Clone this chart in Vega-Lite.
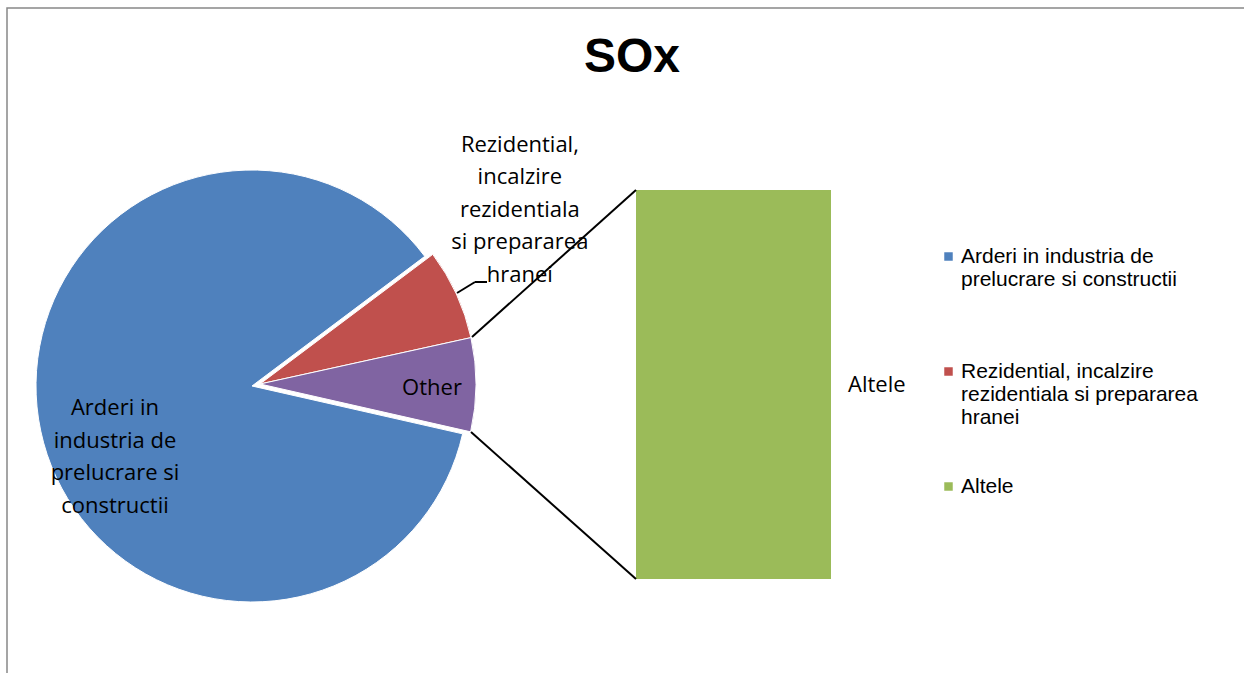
{
  "$schema": "https://vega.github.io/schema/vega-lite/v6.json",
  "autosize": "none",
  "padding": {"left": 7, "top": 8, "right": 0, "bottom": 0},
  "width": 1240,
  "height": 670,
  "background": "white",
  "config": {
    "view": {"stroke": "#888888", "strokeWidth": 1.5},
    "font": "Open Sans"
  },
  "title": {
    "text": "SOx",
    "font": "Liberation Sans",
    "fontSize": 48,
    "fontWeight": "bold",
    "color": "black",
    "anchor": "middle",
    "frame": "group",
    "dx": 5,
    "offset": -74
  },
  "datasets": {
    "pie": [
      {"cat": "Arderi in industria de prelucrare si constructii", "label": "Arderi in\nindustria de\nprelucrare si\nconstructii", "value": 86.2, "ord": 1},
      {"cat": "Rezidential, incalzire rezidentiala si prepararea hranei", "label": "Rezidential,\nincalzire\nrezidentiala\nsi prepararea\nhranei", "value": 6.8, "ord": 2},
      {"cat": "Other", "label": "Other", "value": 7.0, "ord": 3}
    ],
    "bar": [
      {"cat": "Altele", "label": "Altele", "value": 7.0}
    ]
  },
  "layer": [
    {
      "data": {"name": "pie"},
      "mark": {"type": "arc", "x": 245, "y": 378, "outerRadius": 216, "stroke": "white", "strokeWidth": 1},
      "encoding": {
        "theta": {"field": "value", "type": "quantitative", "stack": true, "scale": {"range": [1.7942, 8.0774]}},
        "order": {"field": "ord", "type": "quantitative"},
        "color": {
          "field": "cat", "type": "nominal",
          "scale": {
            "domain": ["Arderi in industria de prelucrare si constructii", "Rezidential, incalzire rezidentiala si prepararea hranei", "Other", "Altele"],
            "range": ["#4F81BD", "#C0504D", "#8064A2", "#9BBB59"]
          },
          "legend": {
            "title": null,
            "values": ["Arderi in industria de prelucrare si constructii", "Rezidential, incalzire rezidentiala si prepararea hranei", "Altele"],
            "orient": "none",
            "legendX": 931,
            "legendY": 238,
            "symbolType": "square",
            "symbolSize": 72,
            "symbolStrokeWidth": 0,
            "labelFont": "Liberation Sans",
            "labelFontSize": 21,
            "labelColor": "black",
            "labelLimit": 400,
            "labelOffset": 2,
            "rowPadding": 47,
            "gridAlign": "all",
            "labelExpr": "datum.value == 'Arderi in industria de prelucrare si constructii' ? ['Arderi in industria de', 'prelucrare si constructii'] : datum.value == 'Rezidential, incalzire rezidentiala si prepararea hranei' ? ['Rezidential, incalzire', 'rezidentiala si prepararea', 'hranei'] : datum.label",
            "encode": {"labels": {"update": {"lineHeight": {"value": 25}}}}
          }
        },
        "opacity": {"condition": {"test": "datum.cat == 'Arderi in industria de prelucrare si constructii'", "value": 1}, "value": 0}
      }
    },
    {
      "data": {"name": "pie"},
      "mark": {"type": "arc", "x": 253, "y": 376, "outerRadius": 216, "stroke": "white", "strokeWidth": 1},
      "encoding": {
        "theta": {"field": "value", "type": "quantitative", "stack": true},
        "order": {"field": "ord", "type": "quantitative"},
        "color": {"field": "cat", "type": "nominal"},
        "opacity": {"condition": {"test": "datum.cat != 'Arderi in industria de prelucrare si constructii'", "value": 1}, "value": 0}
      }
    },
    {
      "data": {"name": "pie"},
      "mark": {"type": "text", "x": 245, "y": 378, "radius": 135, "dx": -5, "dy": -6, "fontSize": 22, "lineBreak": "\n", "lineHeight": 32.5, "color": "black", "align": "center", "baseline": "middle"},
      "encoding": {
        "theta": {"field": "value", "type": "quantitative", "stack": true},
        "order": {"field": "ord", "type": "quantitative"},
        "detail": {"field": "cat", "type": "nominal"},
        "text": {"condition": {"test": "datum.cat == 'Arderi in industria de prelucrare si constructii'", "field": "label"}, "value": ""}
      }
    },
    {
      "data": {"name": "pie"},
      "mark": {"type": "text", "x": 245, "y": 378, "radius": 320, "dx": -23, "dy": -108, "fontSize": 22, "lineBreak": "\n", "lineHeight": 32.5, "color": "black", "align": "center", "baseline": "middle"},
      "encoding": {
        "theta": {"field": "value", "type": "quantitative", "stack": true},
        "order": {"field": "ord", "type": "quantitative"},
        "detail": {"field": "cat", "type": "nominal"},
        "text": {"condition": {"test": "datum.cat == 'Rezidential, incalzire rezidentiala si prepararea hranei'", "field": "label"}, "value": ""}
      }
    },
    {
      "data": {"name": "pie"},
      "mark": {"type": "text", "x": 245, "y": 378, "radius": 180, "dy": 1, "fontSize": 22, "color": "black", "align": "center", "baseline": "middle"},
      "encoding": {
        "theta": {"field": "value", "type": "quantitative", "stack": true},
        "order": {"field": "ord", "type": "quantitative"},
        "detail": {"field": "cat", "type": "nominal"},
        "text": {"condition": {"test": "datum.cat == 'Other'", "field": "label"}, "value": ""}
      }
    },
    {
      "data": {"name": "bar"},
      "mark": {"type": "bar"},
      "encoding": {
        "x": {"field": "cat", "type": "nominal", "axis": null, "scale": {"range": [629, 824], "paddingInner": 0, "paddingOuter": 0}},
        "y": {"field": "value", "type": "quantitative", "axis": null, "scale": {"range": [571, 182], "nice": false, "zero": true}},
        "color": {"field": "cat", "type": "nominal"}
      }
    },
    {
      "data": {"name": "bar"},
      "mark": {"type": "text", "fontSize": 22, "color": "black", "align": "left", "baseline": "middle", "dx": 17},
      "encoding": {
        "x": {"field": "cat", "type": "nominal", "bandPosition": 1},
        "y": {"field": "value", "type": "quantitative", "stack": "zero", "bandPosition": 0.5},
        "text": {"field": "label"}
      }
    },
    {
      "data": {"values": [{}]},
      "mark": {"type": "rule", "color": "black", "strokeWidth": 2},
      "encoding": {"x": {"value": 465}, "y": {"value": 329}, "x2": {"value": 629}, "y2": {"value": 182}}
    },
    {
      "data": {"values": [{}]},
      "mark": {"type": "rule", "color": "black", "strokeWidth": 2},
      "encoding": {"x": {"value": 464}, "y": {"value": 424}, "x2": {"value": 629}, "y2": {"value": 571}}
    },
    {
      "data": {"values": [{}]},
      "mark": {"type": "rule", "color": "black", "strokeWidth": 2},
      "encoding": {"x": {"value": 450}, "y": {"value": 285}, "x2": {"value": 468}, "y2": {"value": 274}}
    },
    {
      "data": {"values": [{}]},
      "mark": {"type": "rule", "color": "black", "strokeWidth": 2},
      "encoding": {"x": {"value": 468}, "y": {"value": 274}, "x2": {"value": 480}, "y2": {"value": 274}}
    }
  ]
}
